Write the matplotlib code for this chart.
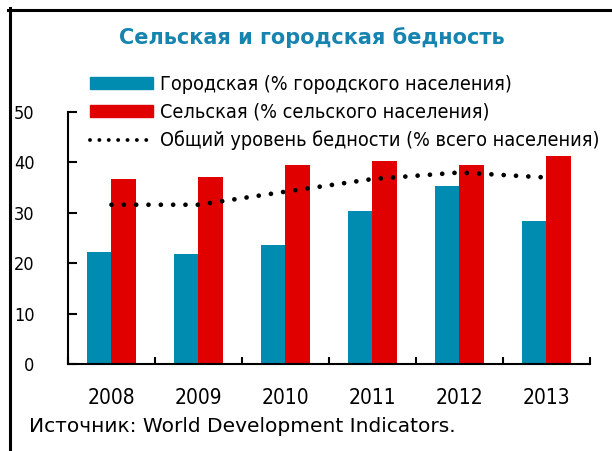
import matplotlib
matplotlib.use("Agg")
import matplotlib.pyplot as plt
from matplotlib.lines import Line2D
import numpy as np

years = ["2008", "2009", "2010", "2011", "2012", "2013"]
urban = [22.3, 21.9, 23.7, 30.4, 35.4, 28.4]
rural = [36.8, 37.2, 39.5, 40.3, 39.5, 41.3]
total = [31.6, 31.6, 34.2, 36.7, 38.0, 37.0]

title = "Сельская и городская бедность"
labels = ["Городская (% городского населения)",
          "Сельская (% сельского населения)",
          "Общий уровень бедности (% всего населения)"]
source = "Источник: World Development Indicators."

teal = "#008BB0"
red = "#E00000"

plt.rcParams["font.family"] = ["DejaVu Sans"]
plt.rcParams["font.stretch"] = "condensed"

fig = plt.figure(figsize=(6.12, 4.51), dpi=100)
ax = fig.add_axes([68 / 612, 1 - 364 / 451, 522 / 612, 252 / 451])

x = np.arange(len(years))
w = 0.287
ax.bar(x - w / 2, urban, w, color=teal, label=labels[0])
ax.bar(x + w / 2, rural, w, color=red, label=labels[1])
ax.plot(x, total, color="black", lw=3.4, linestyle=(0, (0.01, 2.6)),
        dash_capstyle="round", label=labels[2])

ax.set_xlim(-0.5, len(years) - 0.5)
ax.set_ylim(0, 50)
ax.set_yticks([0, 10, 20, 30, 40, 50])
ax.set_xticks(x)
ax.set_xticklabels(years)
ax.set_xticks(np.arange(-0.5, len(years)), minor=True)
ax.tick_params(axis="x", which="major", length=0, pad=17, labelsize=15)
ax.tick_params(axis="x", which="minor", direction="in", length=5, width=1.5)
ax.tick_params(axis="y", direction="in", length=6.5, width=1.5, pad=24,
               labelsize=13)
for s in ["top", "right"]:
    ax.spines[s].set_visible(False)
for s in ["left", "bottom"]:
    ax.spines[s].set_linewidth(1.5)

# legend inside the top of the plot
handles = [plt.Rectangle((0, 0), 1, 1, color=teal),
           plt.Rectangle((0, 0), 1, 1, color=red),
           Line2D([], [], color="black", lw=2.8, linestyle=(0, (0.01, 2.4)),
                  dash_capstyle="round")]
fig.legend(handles, labels, loc="upper left",
           bbox_to_anchor=(90 / 612, 1 - 75 / 451), frameon=False,
           fontsize=14.2, handlelength=3.2, handleheight=0.6,
           handletextpad=0.35, labelspacing=0.45, borderpad=0,
           borderaxespad=0)

fig.text(312 / 612, 1 - 38 / 451, title, ha="center", va="center",
         fontsize=15, fontweight="bold", fontstretch="normal",
         color="#1784B0")
fig.text(29 / 612, 1 - 427 / 451, source, ha="left", va="center",
         fontsize=14.5, fontstretch="normal")

# frame at the top and left of the picture
fig.add_artist(Line2D([9.5 / 612, 9.5 / 612], [0, 1 - 8 / 451],
                      transform=fig.transFigure, color="black", lw=2.2))
fig.add_artist(Line2D([8 / 612, 1], [1 - 9.5 / 451, 1 - 9.5 / 451],
                      transform=fig.transFigure, color="black", lw=2.2))

fig.savefig("out.png", dpi=100)
